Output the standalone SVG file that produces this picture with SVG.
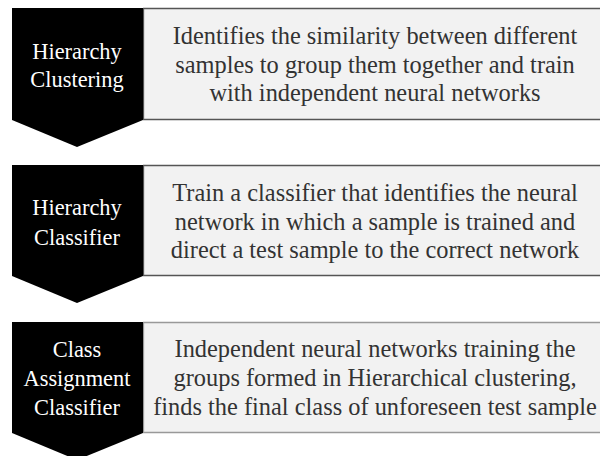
<svg xmlns="http://www.w3.org/2000/svg" width="600" height="456" viewBox="0 0 600 456">
<style>
.tag{fill:#000}
.box{fill:#f2f2f2}
.edge{stroke:#555;stroke-width:1.3;fill:none}
.edge3{stroke:#999;stroke-width:1.3;fill:none}
.lbl{font-family:"Liberation Serif","Times New Roman",serif;font-size:22.4px;fill:#fff;text-anchor:middle}
.desc{font-family:"Liberation Serif","Times New Roman",serif;font-size:24.4px;fill:#333;text-anchor:middle}
</style>
<rect width="600" height="456" fill="#fff"/>
<g id="connectors"></g>
<g id="node1">
<rect class="box" x="143" y="8" width="457" height="112"/>
<path class="edge" d="M143 8.5H600M143 119.5H600M143.5 8V120"/>
<polygon class="tag" points="12,8 143,8 143,120 77,147 12,120"/>
<text class="lbl" x="77" y="59">Hierarchy</text>
<text class="lbl" x="77" y="87">Clustering</text>
<text class="desc" x="375" y="44">Identifies the similarity between different</text>
<text class="desc" x="375" y="72.5">samples to group them together and train</text>
<text class="desc" x="375" y="101">with independent neural networks</text>
</g>
<g id="node2">
<rect class="box" x="143" y="165" width="457" height="111"/>
<path class="edge" d="M143 165.5H600M143 275.5H600M143.5 165V276"/>
<polygon class="tag" points="12,165 143,165 143,276 77,303 12,276"/>
<text class="lbl" x="77" y="215">Hierarchy</text>
<text class="lbl" x="77" y="245">Classifier</text>
<text class="desc" x="375" y="201">Train a classifier that identifies the neural</text>
<text class="desc" x="375" y="229.5">network in which a sample is trained and</text>
<text class="desc" x="375" y="258">direct a test sample to the correct network</text>
</g>
<g id="node3">
<rect class="box" x="143" y="322" width="457" height="111"/>
<path class="edge3" d="M143 322.5H600M143 432.5H600M143.5 322V433"/>
<polygon class="tag" points="12,322 143,322 143,433 77,460 12,433"/>
<text class="lbl" x="77" y="357">Class</text>
<text class="lbl" x="77" y="386">Assignment</text>
<text class="lbl" x="77" y="415">Classifier</text>
<text class="desc" x="375" y="357">Independent neural networks training the</text>
<text class="desc" x="375" y="386">groups formed in Hierarchical clustering,</text>
<text class="desc" x="375" y="415">finds the final class of unforeseen test sample</text>
</g>
</svg>
